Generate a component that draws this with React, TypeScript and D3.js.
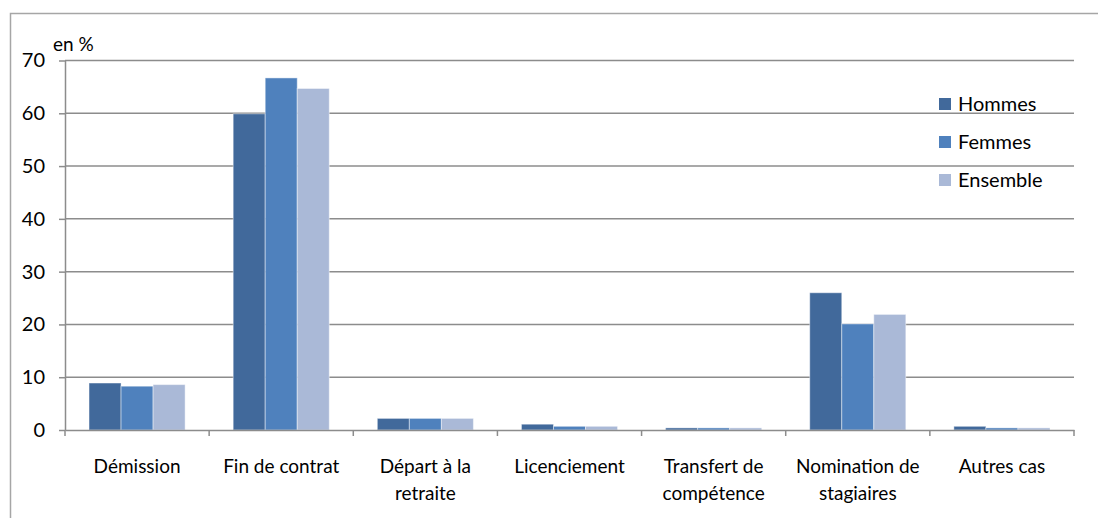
import React, { useEffect, useRef } from 'react';
import * as d3 from 'd3';

const categories = [
  ['Démission'],
  ['Fin de contrat'],
  ['Départ à la', 'retraite'],
  ['Licenciement'],
  ['Transfert de', 'compétence'],
  ['Nomination de', 'stagiaires'],
  ['Autres cas'],
];
const seriesNames = ['Hommes', 'Femmes', 'Ensemble'];
const hommes = [8.9, 59.9, 2.2, 1.1, 0.4, 26.0, 0.7];
const femmes = [8.3, 66.7, 2.2, 0.7, 0.4, 20.1, 0.4];
const ensemble = [8.6, 64.7, 2.2, 0.7, 0.4, 21.9, 0.4];
const yTicks = [0, 10, 20, 30, 40, 50, 60, 70];
const colors = ['#41699b', '#4f81bd', '#aab9d7'];

const App: React.FC = () => {
  const svgRef = useRef<SVGSVGElement | null>(null);

  useEffect(() => {
    if (!svgRef.current) return;
    const svg = d3.select(svgRef.current);
    svg.selectAll('*').remove();

    const width = 1098;
    const height = 518;
    const margin = { top: 60.5, right: 24, bottom: 88, left: 65 };
    const font = 'Lato, "Open Sans", sans-serif';
    const grey = '#8c8c8c';

    const x = d3.scaleBand<number>()
      .domain(d3.range(categories.length))
      .range([margin.left, width - margin.right])
      .paddingInner(0)
      .paddingOuter(0);

    const sub = d3.scaleBand<number>()
      .domain(d3.range(seriesNames.length))
      .range([0, x.bandwidth()])
      .paddingOuter(0.75)
      .paddingInner(0);

    const y = d3.scaleLinear()
      .domain([0, 70])
      .range([height - margin.bottom, margin.top]);

    // outer frame (right & bottom edges out of frame)
    svg.append('path')
      .attr('d', `M10.5,${height + 2}V13.5H${width + 2}`)
      .attr('fill', 'none')
      .attr('stroke', '#a6a6a6')
      .attr('stroke-width', 1.5);

    // gridlines
    svg.append('g')
      .selectAll('line')
      .data(yTicks.filter(d => d > 0))
      .join('line')
      .attr('x1', margin.left)
      .attr('x2', width - margin.right)
      .attr('y1', d => y(d))
      .attr('y2', d => y(d))
      .attr('stroke', grey)
      .attr('stroke-width', 1.5);

    // bars
    const data = [hommes, femmes, ensemble];
    data.forEach((vals, s) => {
      svg.append('g')
        .selectAll('rect')
        .data(vals)
        .join('rect')
        .attr('x', (_, i) => (x(i) || 0) + (sub(s) || 0))
        .attr('y', d => y(d))
        .attr('width', sub.bandwidth())
        .attr('height', d => y(0) - y(d))
        .attr('fill', colors[s])
        .attr('stroke', 'rgba(255,255,255,0.45)')
        .attr('stroke-width', 1);
    });

    // y axis
    const yAxis = svg.append('g')
      .attr('transform', `translate(${margin.left},0)`)
      .call(d3.axisLeft(y).tickValues(yTicks).tickSize(6).tickSizeOuter(0).tickPadding(14));
    yAxis.select('.domain').attr('stroke', grey).attr('stroke-width', 1.5);
    yAxis.selectAll('.tick line').attr('stroke', grey).attr('stroke-width', 1.5);
    yAxis.selectAll('.tick text')
      .attr('font-family', font)
      .attr('font-size', 20)
      .attr('fill', '#000');

    // x axis
    const xAxis = svg.append('g')
      .attr('transform', `translate(0,${y(0)})`)
      .call(d3.axisBottom(x).tickSize(0).tickFormat(() => ''));
    xAxis.select('.domain').attr('stroke', grey).attr('stroke-width', 1.5);
    xAxis.selectAll('.tick').remove();

    const bounds = d3.range(categories.length + 1).map(i =>
      i < categories.length ? (x(i) || 0) : (x(categories.length - 1) || 0) + x.bandwidth());
    xAxis.selectAll('line.cat')
      .data(bounds)
      .join('line')
      .attr('class', 'cat')
      .attr('x1', d => d)
      .attr('x2', d => d)
      .attr('y1', 0)
      .attr('y2', 6)
      .attr('stroke', grey)
      .attr('stroke-width', 1.5);

    const labels = svg.append('g');
    categories.forEach((lines, i) => {
      const t = labels.append('text')
        .attr('x', (x(i) || 0) + x.bandwidth() / 2)
        .attr('y', 473)
        .attr('text-anchor', 'middle')
        .attr('font-family', font)
        .attr('font-size', 19)
        .attr('fill', '#000');
      lines.forEach((ln, j) => {
        t.append('tspan')
          .attr('x', (x(i) || 0) + x.bandwidth() / 2)
          .attr('dy', j === 0 ? 0 : 27)
          .text(ln);
      });
    });

    // unit label
    svg.append('text')
      .attr('x', 53)
      .attr('y', 51)
      .attr('font-family', font)
      .attr('font-size', 19)
      .attr('fill', '#000')
      .text('en %');

    // legend
    const legend = svg.append('g').attr('transform', 'translate(939,104)');
    seriesNames.forEach((name, i) => {
      const g = legend.append('g').attr('transform', `translate(0,${i * 38})`);
      g.append('rect')
        .attr('x', 0)
        .attr('y', -6)
        .attr('width', 12)
        .attr('height', 12)
        .attr('fill', colors[i]);
      g.append('text')
        .attr('x', 19)
        .attr('y', 0)
        .attr('dy', '0.35em')
        .attr('font-family', font)
        .attr('font-size', 20)
        .attr('fill', '#000')
        .text(name);
    });
  }, []);

  return (
    <svg
      ref={svgRef}
      width={1098}
      height={518}
      style={{ position: 'absolute', left: 0, top: 0, display: 'block', background: '#fff' }}
    />
  );
};

export default App;
